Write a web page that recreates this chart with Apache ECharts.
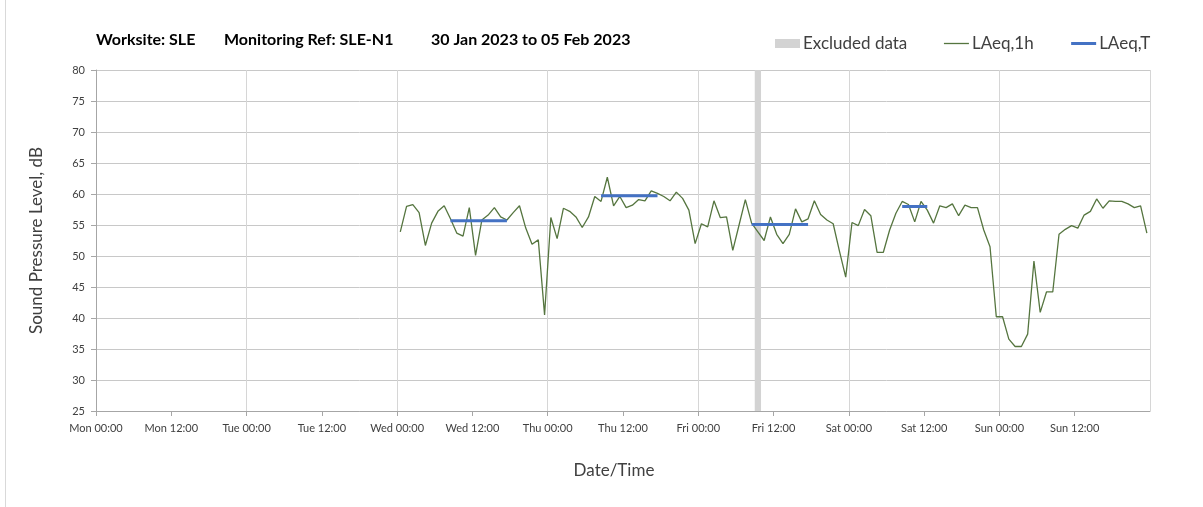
<!DOCTYPE html>
<html>
<head>
<meta charset="utf-8">
<script src="https://cdn.jsdelivr.net/npm/echarts@6/dist/echarts.min.js"></script>
<style>
html,body{margin:0;padding:0;background:#fff;}
#chart{width:1203px;height:507px;}
</style>
</head>
<body>
<div id="chart"></div>
<script>
// ---- data ----
var xTickLabels = ['Mon 00:00','Mon 12:00','Tue 00:00','Tue 12:00','Wed 00:00','Wed 12:00','Thu 00:00','Thu 12:00','Fri 00:00','Fri 12:00','Sat 00:00','Sat 12:00','Sun 00:00','Sun 12:00','Mon 00:00'];
var yTicks = [25,30,35,40,45,50,55,60,65,70,75,80];
var firstHour = 48.5; // hours since Mon 00:00 of first hourly value
var laeq1h = [
  53.9,58.0,58.3,57.0,51.7,55.3,57.2,58.1,56.0,53.7,
  53.2,57.8,50.1,55.8,56.6,57.8,56.3,55.8,57.0,58.1,
  54.5,51.9,52.6,40.5,56.2,52.8,57.7,57.2,56.3,54.6,
  56.3,59.6,58.8,62.7,58.1,59.6,57.8,58.2,59.1,58.9,
  60.5,60.1,59.6,58.9,60.3,59.3,57.4,52.0,55.2,54.7,
  58.9,56.2,56.3,50.9,55.0,59.1,55.3,53.9,52.5,56.3,
  53.5,52.0,53.5,57.6,55.5,56.0,58.9,56.7,55.8,55.2,
  50.8,46.6,55.4,54.9,57.5,56.5,50.6,50.6,54.2,56.9,
  58.8,58.3,55.5,58.8,57.4,55.3,58.1,57.8,58.4,56.5,
  58.2,57.8,57.8,54.2,51.5,40.2,40.2,36.6,35.4,35.4,
  37.4,49.2,40.9,44.2,44.2,53.5,54.3,54.9,54.5,56.6,
  57.2,59.2,57.7,58.9,58.8,58.8,58.4,57.8,58.1,53.7
];
var laeqTStart = [56.5, 80.5, 104.5, 128.5];
var laeqTEnd   = [65.5, 89.5, 113.5, 132.5];
var laeqTValue = [55.7, 59.7, 55.1, 58.0];
var excludedRange = [105, 106];

// ---- build ----
var lineData = laeq1h.map(function(v,i){ return [firstHour + i, v]; });
var tData = [];
for (var k=0;k<laeqTStart.length;k++){
  tData.push([laeqTStart[k], laeqTValue[k]]);
  tData.push([laeqTEnd[k], laeqTValue[k]]);
  if (k < laeqTStart.length-1) tData.push([laeqTEnd[k], '-']);
}

var FONT = 'Lato';
var titleStyle = {fontFamily:FONT,fontSize:16,fontWeight:'bold',color:'#000'};
var chart = echarts.init(document.getElementById('chart'), null, {renderer:'canvas'});
chart.setOption({
  backgroundColor:'#ffffff',
  animation:false,
  textStyle:{fontFamily:FONT},
  title:[
    {text:'Worksite: SLE', left:96, top:32, padding:0, textStyle:titleStyle},
    {text:'Monitoring Ref: SLE-N1', left:224, top:32, padding:0, textStyle:titleStyle},
    {text:'30 Jan 2023 to 05 Feb 2023', left:431, top:32, padding:0, textStyle:titleStyle}
  ],
  legend:{
    left:775, top:35, padding:0, itemWidth:25, itemHeight:9, itemGap:36,
    textStyle:{fontFamily:FONT,fontSize:17,color:'#404040',padding:[0,0,0,-2]},
    data:[
      {name:'Excluded data', icon:'rect', itemStyle:{color:'#d3d3d3'}},
      {name:'LAeq,1h', itemStyle:{opacity:0}, lineStyle:{color:'#55753f', width:1.3}},
      {name:'LAeq,T', itemStyle:{opacity:0}, lineStyle:{color:'#4472c4', width:3}}
    ]
  },
  grid:{left:96, right:53, top:70, bottom:96, containLabel:false},
  xAxis:[
    {
      type:'value', min:0, max:168, interval:12,
      axisLine:{show:true, onZero:false, lineStyle:{color:'#a6a6a6',width:1}},
      axisTick:{show:true, length:5, lineStyle:{color:'#a6a6a6'}},
      axisLabel:{show:true, margin:12, fontSize:11, color:'#404040', fontFamily:FONT,
        showMaxLabel:false,
        formatter:function(v){ return xTickLabels[Math.round(v/12)]; }},
      splitLine:{show:false},
      name:'Date/Time', nameLocation:'middle', nameGap:51,
      nameTextStyle:{fontSize:17,color:'#404040',fontFamily:FONT,padding:[0,18,0,0]}
    },
    {
      type:'value', min:0, max:168, interval:24, position:'bottom',
      axisLine:{show:false}, axisTick:{show:false}, axisLabel:{show:false},
      splitLine:{show:true, lineStyle:{color:'#d6d6d6',width:1}}
    }
  ],
  yAxis:{
    type:'value', min:25, max:80, interval:5,
    axisLine:{show:true, lineStyle:{color:'#a6a6a6',width:1}},
    axisTick:{show:true, length:5, lineStyle:{color:'#a6a6a6'}},
    axisLabel:{margin:11, fontSize:11, color:'#404040', fontFamily:FONT,
      formatter:function(v){ return yTicks.indexOf(v) >= 0 ? String(v) : ''; }},
    splitLine:{show:true, lineStyle:{color:'#c8c8c8',width:1}},
    name:'Sound Pressure Level, dB', nameLocation:'middle', nameGap:51,
    nameTextStyle:{fontSize:17,color:'#404040',fontFamily:FONT}
  },
  series:[
    {
      name:'Excluded data', type:'line', data:[], z:1,
      itemStyle:{color:'#d3d3d3'},
      markArea:{silent:true, itemStyle:{color:'#d3d3d3', opacity:1},
        data:[[{xAxis:excludedRange[0]},{xAxis:excludedRange[1]}]]}
    },
    {
      name:'LAeq,1h', type:'line', data:lineData, showSymbol:false, symbol:'none', z:3,
      lineStyle:{color:'#55753f', width:1.3}, itemStyle:{color:'#55753f'}
    },
    {
      name:'LAeq,T', type:'line', data:tData, showSymbol:false, symbol:'none', z:4,
      connectNulls:false,
      lineStyle:{color:'#4472c4', width:3}, itemStyle:{color:'#4472c4'}
    }
  ],
  graphic:[
    {type:'line', shape:{x1:5.5,y1:0,x2:5.5,y2:507}, style:{stroke:'#d9d9d9',lineWidth:1}, silent:true}
  ]
});
</script>
</body>
</html>
